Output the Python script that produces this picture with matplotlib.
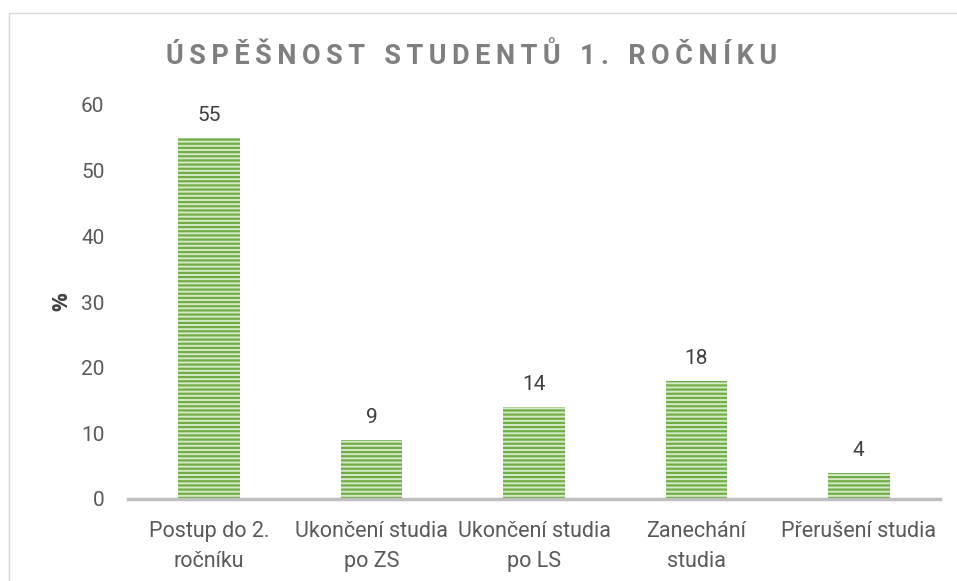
import matplotlib.pyplot as plt
from matplotlib.patches import Rectangle

categories = ['Postup do 2.\nročníku', 'Ukončení studia\npo ZS', 'Ukončení studia\npo LS',
              'Zanechání\nstudia', 'Přerušení studia']
values = [55, 9, 14, 18, 4]
y_ticks = [0, 10, 20, 30, 40, 50, 60]
title = 'ÚSPĚŠNOST STUDENTŮ 1. ROČNÍKU'

plt.rcParams['font.family'] = ['Roboto', 'DejaVu Sans']
plt.rcParams['hatch.linewidth'] = 1.6

fig = plt.figure(figsize=(9.57, 5.81), dpi=100)
ax = fig.add_axes([128/957, 1-499/581, (940-128)/957, (499-105)/581])

x = list(range(len(values)))
bars = ax.bar(x, values, width=0.38, color='#d5eac8', edgecolor='#70ad47',
              hatch='----', linewidth=0)
for b, v in zip(bars, values):
    ax.text(b.get_x() + b.get_width()/2, v + 2.0, str(v), ha='center', va='bottom',
            fontsize=15, color='#404040')

ax.set_xlim(-0.5, len(values) - 0.5)
ax.set_ylim(0, 60)
ax.set_yticks(y_ticks)
ax.set_xticks(x)
ax.set_xticklabels(categories, fontsize=15.5, color='#595959', linespacing=1.55)
ax.tick_params(axis='y', labelsize=15, labelcolor='#595959', length=0, pad=17)
ax.tick_params(axis='x', length=0, pad=16)
for s in ['top', 'right', 'left']:
    ax.spines[s].set_visible(False)
ax.spines['bottom'].set_color('#bfbfbf')
ax.spines['bottom'].set_linewidth(2.5)
ax.set_ylabel('%', fontsize=15, fontweight='bold', color='#404040', labelpad=6,
              family=['Open Sans', 'DejaVu Sans'])

# title with letter spacing
spaced = '\u2009'.join(title).replace('\u2009 \u2009', '\u2002\u2009')
fig.text(472/957, 1-57/581, spaced, ha='center', va='center', fontsize=19.5,
         fontweight='bold', color='#7f7f7f')

fig.patches.append(Rectangle((9/957, -0.1), 1, 1.1-13/581, transform=fig.transFigure,
                             fill=False, edgecolor='#d9d9d9', linewidth=1))

fig.savefig('out.png', dpi=100)
